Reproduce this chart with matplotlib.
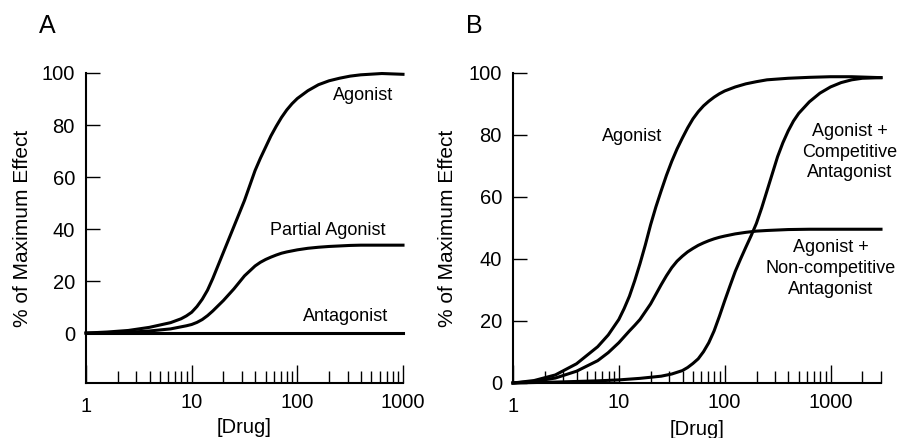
import matplotlib
matplotlib.use("Agg")
import matplotlib.pyplot as plt
from matplotlib.ticker import FixedLocator, NullFormatter

plt.rcParams['font.family'] = ['Liberation Sans', 'DejaVu Sans']

# ---------------- Panel A data ----------------
drug_a = [1, 1.585, 2.512, 3.981, 6.31, 7.943, 8.913, 10, 11.22, 12.59, 14.13, 15.85,
          19.95, 25.12, 31.62, 39.81, 44.67, 50.12, 56.23, 63.1, 70.79, 79.43, 89.13,
          100, 125.9, 158.5, 199.5, 251.2, 316.2, 398.1, 631, 1000]
agonist_a = [0, 0.4, 1.0, 2.2, 4.0, 5.5, 6.6, 8, 10.2, 13, 16.5, 21,
             31, 41, 51, 62.5, 67.2, 71.5, 75.8, 79.5, 82.9, 85.8, 88.2,
             90.2, 93.2, 95.5, 97, 98, 98.8, 99.3, 99.8, 99.5]
partial_a = [0, 0.1, 0.3, 0.8, 1.6, 2.4, 2.8, 3.3, 4.1, 5.2, 6.7, 8.5,
             12.5, 17, 22, 25.8, 27.2, 28.3, 29.2, 30, 30.7, 31.2, 31.6,
             32, 32.6, 33, 33.3, 33.5, 33.7, 33.8, 33.8, 33.8]
antag_drug_a = [1, 1000]
antagonist_a = [0, 0]

# ---------------- Panel B data ----------------
drug_b = [1, 1.585, 2.512, 3.981, 6.31, 7.943, 10, 11.22, 12.59, 14.13, 15.85, 17.78,
          19.95, 22.39, 25.12, 28.18, 31.62, 35.48, 39.81, 44.67, 50.12, 56.23, 63.1,
          70.79, 79.43, 89.13, 100, 125.9, 158.5, 199.5, 251.2, 398.1, 631, 1000,
          1585, 3000]
agonist_b = [0, 0.8, 2.6, 6.2, 11.7, 15.5, 20.5, 24, 28, 33, 38.5, 44.5,
             51, 56.8, 62, 67, 71.5, 75.5, 79, 82.3, 85.2, 87.5, 89.4,
             90.9, 92.2, 93.3, 94.2, 95.5, 96.5, 97.2, 97.8, 98.3, 98.6, 98.8,
             98.8, 98.5]
noncomp_b = [0, 0.5, 1.6, 3.8, 7.2, 9.8, 13, 14.9, 16.8, 18.6, 20.5, 23,
             25.5, 28.6, 31.7, 34.6, 37.2, 39.3, 40.9, 42.3, 43.4, 44.4, 45.2,
             45.9, 46.5, 47, 47.4, 48.1, 48.6, 49, 49.2, 49.5, 49.6, 49.6,
             49.6, 49.6]
drug_comp_b = [1, 2.512, 6.31, 10, 15.85, 25.12, 31.62, 39.81, 44.67, 50.12, 56.23,
               63.1, 70.79, 79.43, 89.13, 100, 112.2, 125.9, 141.3, 158.5, 177.8,
               199.5, 223.9, 251.2, 281.8, 316.2, 354.8, 398.1, 446.7, 501.2, 631,
               794.3, 1000, 1259, 1585, 1995, 3000]
comp_b = [0, 0.3, 0.7, 1.0, 1.5, 2.2, 2.9, 4.0, 5.0, 6.3, 7.8,
          10.1, 13, 16.8, 21.5, 26.5, 31.3, 36, 40, 43.8, 47.5,
          51.5, 56.5, 62, 67.5, 73, 77.5, 81.3, 84.5, 87, 90.7,
          93.5, 95.5, 96.9, 97.8, 98.3, 98.5]

yticks = [0, 20, 40, 60, 80, 100]
major_x = [1, 10, 100, 1000]
major_x_labels = ['1', '10', '100', '1000']

fig = plt.figure(figsize=(9, 4.38), dpi=100)
axA = fig.add_axes([86 / 900, 1 - 383 / 438, 317 / 900, 310 / 438])
axB = fig.add_axes([513 / 900, 1 - 383 / 438, 368 / 900, 310 / 438])

lw_curve = 2.2
TICK_FS = 14.5
LBL_FS = 15
ANN_FS = 13


def style(ax, xmax, ymin):
    ax.set_xscale('log')
    ax.set_xlim(1, xmax)
    ax.set_ylim(ymin, 100)
    for s in ('top', 'right'):
        ax.spines[s].set_visible(False)
    for s in ('left', 'bottom'):
        ax.spines[s].set_linewidth(1.5)
    ax.set_yticks(yticks)
    ax.set_yticklabels([str(v) for v in yticks])
    ax.xaxis.set_major_locator(FixedLocator(major_x))
    ax.set_xticklabels(major_x_labels)
    minors = []
    for dec in (1, 10, 100, 1000):
        for m in range(2, 10):
            v = m * dec
            if v <= xmax:
                minors.append(v)
    ax.xaxis.set_minor_locator(FixedLocator(minors))
    ax.xaxis.set_minor_formatter(NullFormatter())
    ax.tick_params(axis='y', direction='in', length=10, width=1.0,
                   labelsize=TICK_FS, pad=8)
    ax.tick_params(axis='x', which='major', direction='in', length=13, width=1.0,
                   labelsize=TICK_FS, pad=7)
    ax.tick_params(axis='x', which='minor', direction='in', length=8.5, width=1.0)
    ax.set_xlabel('[Drug]', fontsize=TICK_FS)
    ax.set_ylabel('% of Maximum Effect', fontsize=LBL_FS)


style(axA, 1000, -19.2)
style(axB, 3000, 0)

# "1" tick label sits a bit lower in the reference
for ax in (axA, axB):
    ax.xaxis.get_major_ticks()[0].set_pad(10)

axA.xaxis.set_label_coords(0.5, -0.113)
axB.xaxis.set_label_coords(0.5, -0.118)
axA.yaxis.set_label_coords(-0.17, 0.5)
axB.yaxis.set_label_coords(-0.152, 0.5)

# Panel A curves
axA.plot(drug_a, agonist_a, color='black', lw=lw_curve, clip_on=False, solid_joinstyle='round')
axA.plot(drug_a, partial_a, color='black', lw=lw_curve, clip_on=False, solid_joinstyle='round')
axA.plot(antag_drug_a, antagonist_a, color='black', lw=lw_curve, clip_on=False)

axA.text(420, 91.5, 'Agonist', fontsize=ANN_FS, ha='center', va='center')
axA.text(196, 39.5, 'Partial Agonist', fontsize=ANN_FS, ha='center', va='center')
axA.text(289, 6.5, 'Antagonist', fontsize=ANN_FS, ha='center', va='center')

# Panel B curves
axB.plot(drug_b, agonist_b, color='black', lw=lw_curve, clip_on=False, solid_joinstyle='round')
axB.plot(drug_b, noncomp_b, color='black', lw=lw_curve, clip_on=False, solid_joinstyle='round')
axB.plot(drug_comp_b, comp_b, color='black', lw=lw_curve, clip_on=False, solid_joinstyle='round')

axB.text(13.4, 79.4, 'Agonist', fontsize=ANN_FS, ha='center', va='center')
axB.text(1514, 74.5, 'Agonist +\nCompetitive\nAntagonist', fontsize=ANN_FS,
         ha='center', va='center', multialignment='center', linespacing=1.3)
axB.text(1000, 37, 'Agonist +\nNon-competitive\nAntagonist', fontsize=ANN_FS,
         ha='center', va='center', multialignment='center', linespacing=1.3)

fig.text(47 / 900, 1 - 26 / 438, 'A', fontsize=18, ha='center', va='center')
fig.text(474 / 900, 1 - 26 / 438, 'B', fontsize=18, ha='center', va='center')

fig.savefig('out.png', dpi=100)
